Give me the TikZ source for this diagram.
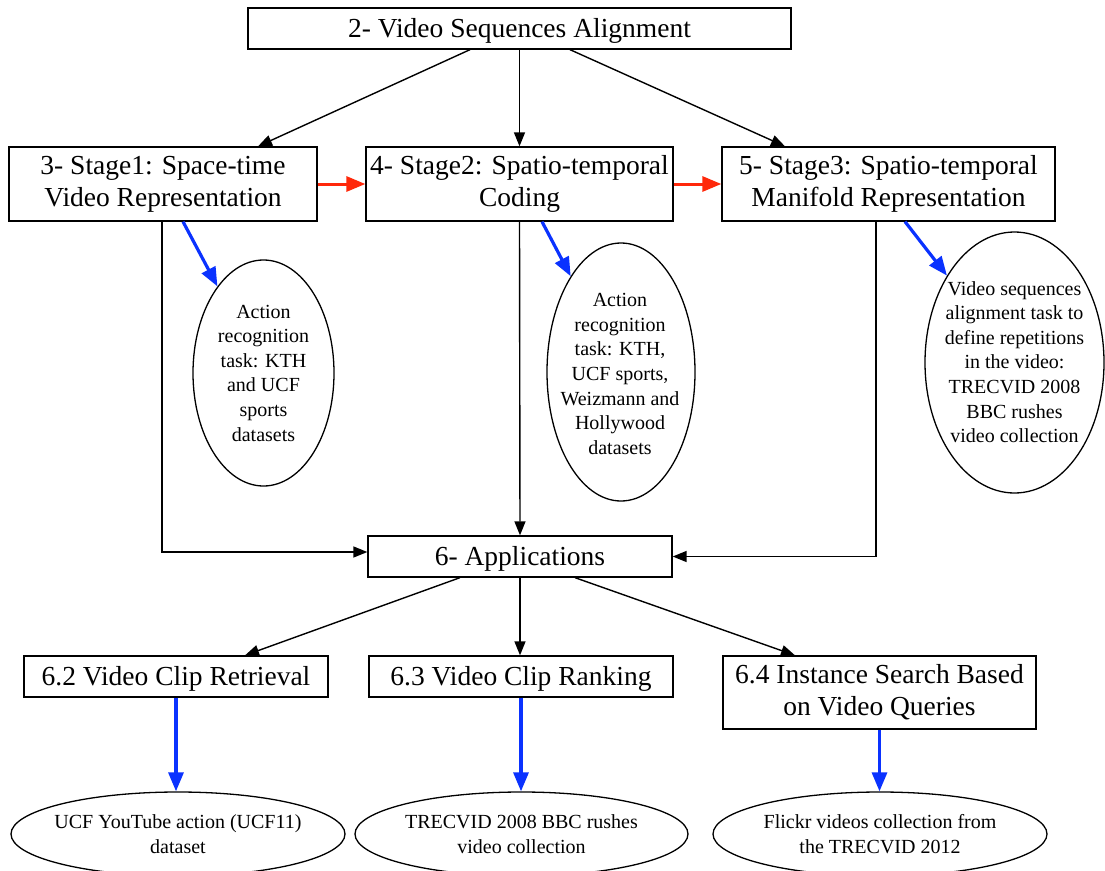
\documentclass[tikz,border=0pt]{standalone}
\usepackage{fontspec}
\setmainfont{Liberation Serif}
\usetikzlibrary{arrows.meta,shapes.geometric}
\definecolor{flowblue}{RGB}{10,50,255}
\definecolor{flowred}{RGB}{255,40,10}
\begin{document}
\begin{tikzpicture}[x=1pt,y=-1pt,
  box/.style={draw, line width=1.3pt, inner sep=0pt, align=center,
    font=\fontsize{27.5}{32}\selectfont,
    execute at begin node={\rule{0pt}{23.6pt}}},
  oval/.style={draw, ellipse, line width=1.3pt, inner sep=0pt},
  ovaltext/.style={align=center, inner sep=0pt,
    font=\fontsize{20}{24.6}\selectfont},
  link/.style={line width=1.4pt, -{Triangle[length=14pt,width=11pt]}},
  bluelink/.style={flowblue, line width=3.2pt, -{Triangle[length=19pt,width=15pt]}},
  redlink/.style={flowred, line width=3pt, -{Triangle[length=19pt,width=15pt]}}]

\useasboundingbox (0,0) rectangle (1105,870);
\fill[white] (0,0) rectangle (1105,870);

% main boxes
\node[box, minimum width=543pt, minimum height=41pt] (top) at (519.5,28.5)
  {2- Video Sequences Alignment};
\node[box, minimum width=308pt, minimum height=74pt] (s1) at (163,184)
  {3- Stage1: Space-time\\Video Representation};
\node[box, minimum width=307pt, minimum height=74pt] (s2) at (519.5,184)
  {4- Stage2: Spatio-temporal\\Coding};
\node[box, minimum width=333pt, minimum height=74pt] (s3) at (888.5,184)
  {5- Stage3: Spatio-temporal\\Manifold Representation};
\node[box, minimum width=304pt, minimum height=41pt] (app) at (520,556.5)
  {6- Applications};
\node[box, minimum width=304pt, minimum height=41pt] (a2) at (176,676.5)
  {6.2 Video Clip Retrieval};
\node[box, minimum width=304pt, minimum height=41pt] (a3) at (521,676.5)
  {6.3 Video Clip Ranking};
\node[box, minimum width=313pt, minimum height=73pt] (a4) at (879.5,692.5)
  {6.4 Instance Search Based\\on Video Queries};

% dataset ellipses
\node[oval, minimum width=141pt, minimum height=226pt] (e1) at (263.5,373) {};
\node[ovaltext] (e1t) at (263.5,373)
  {Action\\recognition\\task: KTH\\and UCF\\sports\\datasets};
\node[oval, minimum width=148pt, minimum height=258pt] (e2) at (621,372) {};
\node[ovaltext] (e2t) at (620,374)
  {Action\\recognition\\task: KTH,\\UCF sports,\\Weizmann and\\Hollywood\\datasets};
\node[oval, minimum width=179pt, minimum height=261pt] (e3) at (1014.5,362.5) {};
\node[ovaltext] (e3t) at (1014.5,362)
  {Video sequences\\alignment task to\\define repetitions\\in the video:\\TRECVID 2008\\BBC rushes\\video collection};
\node[oval, minimum width=334pt, minimum height=84pt] (e4) at (178,834) {};
\node[ovaltext] (e4t) at (178,834) {UCF YouTube action (UCF11)\\dataset};
\node[oval, minimum width=333pt, minimum height=84pt] (e5) at (521.5,834) {};
\node[ovaltext] (e5t) at (521.5,834) {TRECVID 2008 BBC rushes\\video collection};
\node[oval, minimum width=334pt, minimum height=84pt] (e6) at (880,834) {};
\node[ovaltext] (e6t) at (880,834) {Flickr videos collection from\\the TRECVID 2012};

% top level fan-out
\draw[link] ([xshift=-49.5pt]top.south) -- ([xshift=95pt]s1.north);
\draw[link] (top.south) -- (s2.north);
\draw[link] ([xshift=50.5pt]top.south) -- ([xshift=-103.5pt]s3.north);

% stage chain
\draw[redlink] (s1.east) -- (s2.west);
\draw[redlink] (s2.east) -- (s3.west);

% stages to datasets
\draw[bluelink] ([xshift=20pt]s1.south) -- (e1);
\draw[bluelink] ([xshift=22.5pt]s2.south) -- (e2);
\draw[bluelink] ([xshift=16.5pt]s3.south) -- (e3);

% stages to applications
\draw[link] ([xshift=-1pt]s1.south) |- ([yshift=4.5pt]app.west);
\draw[link] (s2.south) -- (app.north);
\draw[link] ([xshift=-12.5pt]s3.south) |- (app.east);

% applications fan-out
\draw[link] ([xshift=-60pt]app.south) -- ([xshift=69pt]a2.north);
\draw[link] (app.south) -- (app.south |- a3.north);
\draw[link] ([xshift=55pt]app.south) -- ([xshift=-84.5pt]a4.north);

% applications to datasets
\draw[bluelink] (a2.south) -- (a2.south |- e4.north);
\draw[bluelink] (a3.south) -- (a3.south |- e5.north);
\draw[bluelink] (a4.south) -- (a4.south |- e6.north);
\end{tikzpicture}
\end{document}
